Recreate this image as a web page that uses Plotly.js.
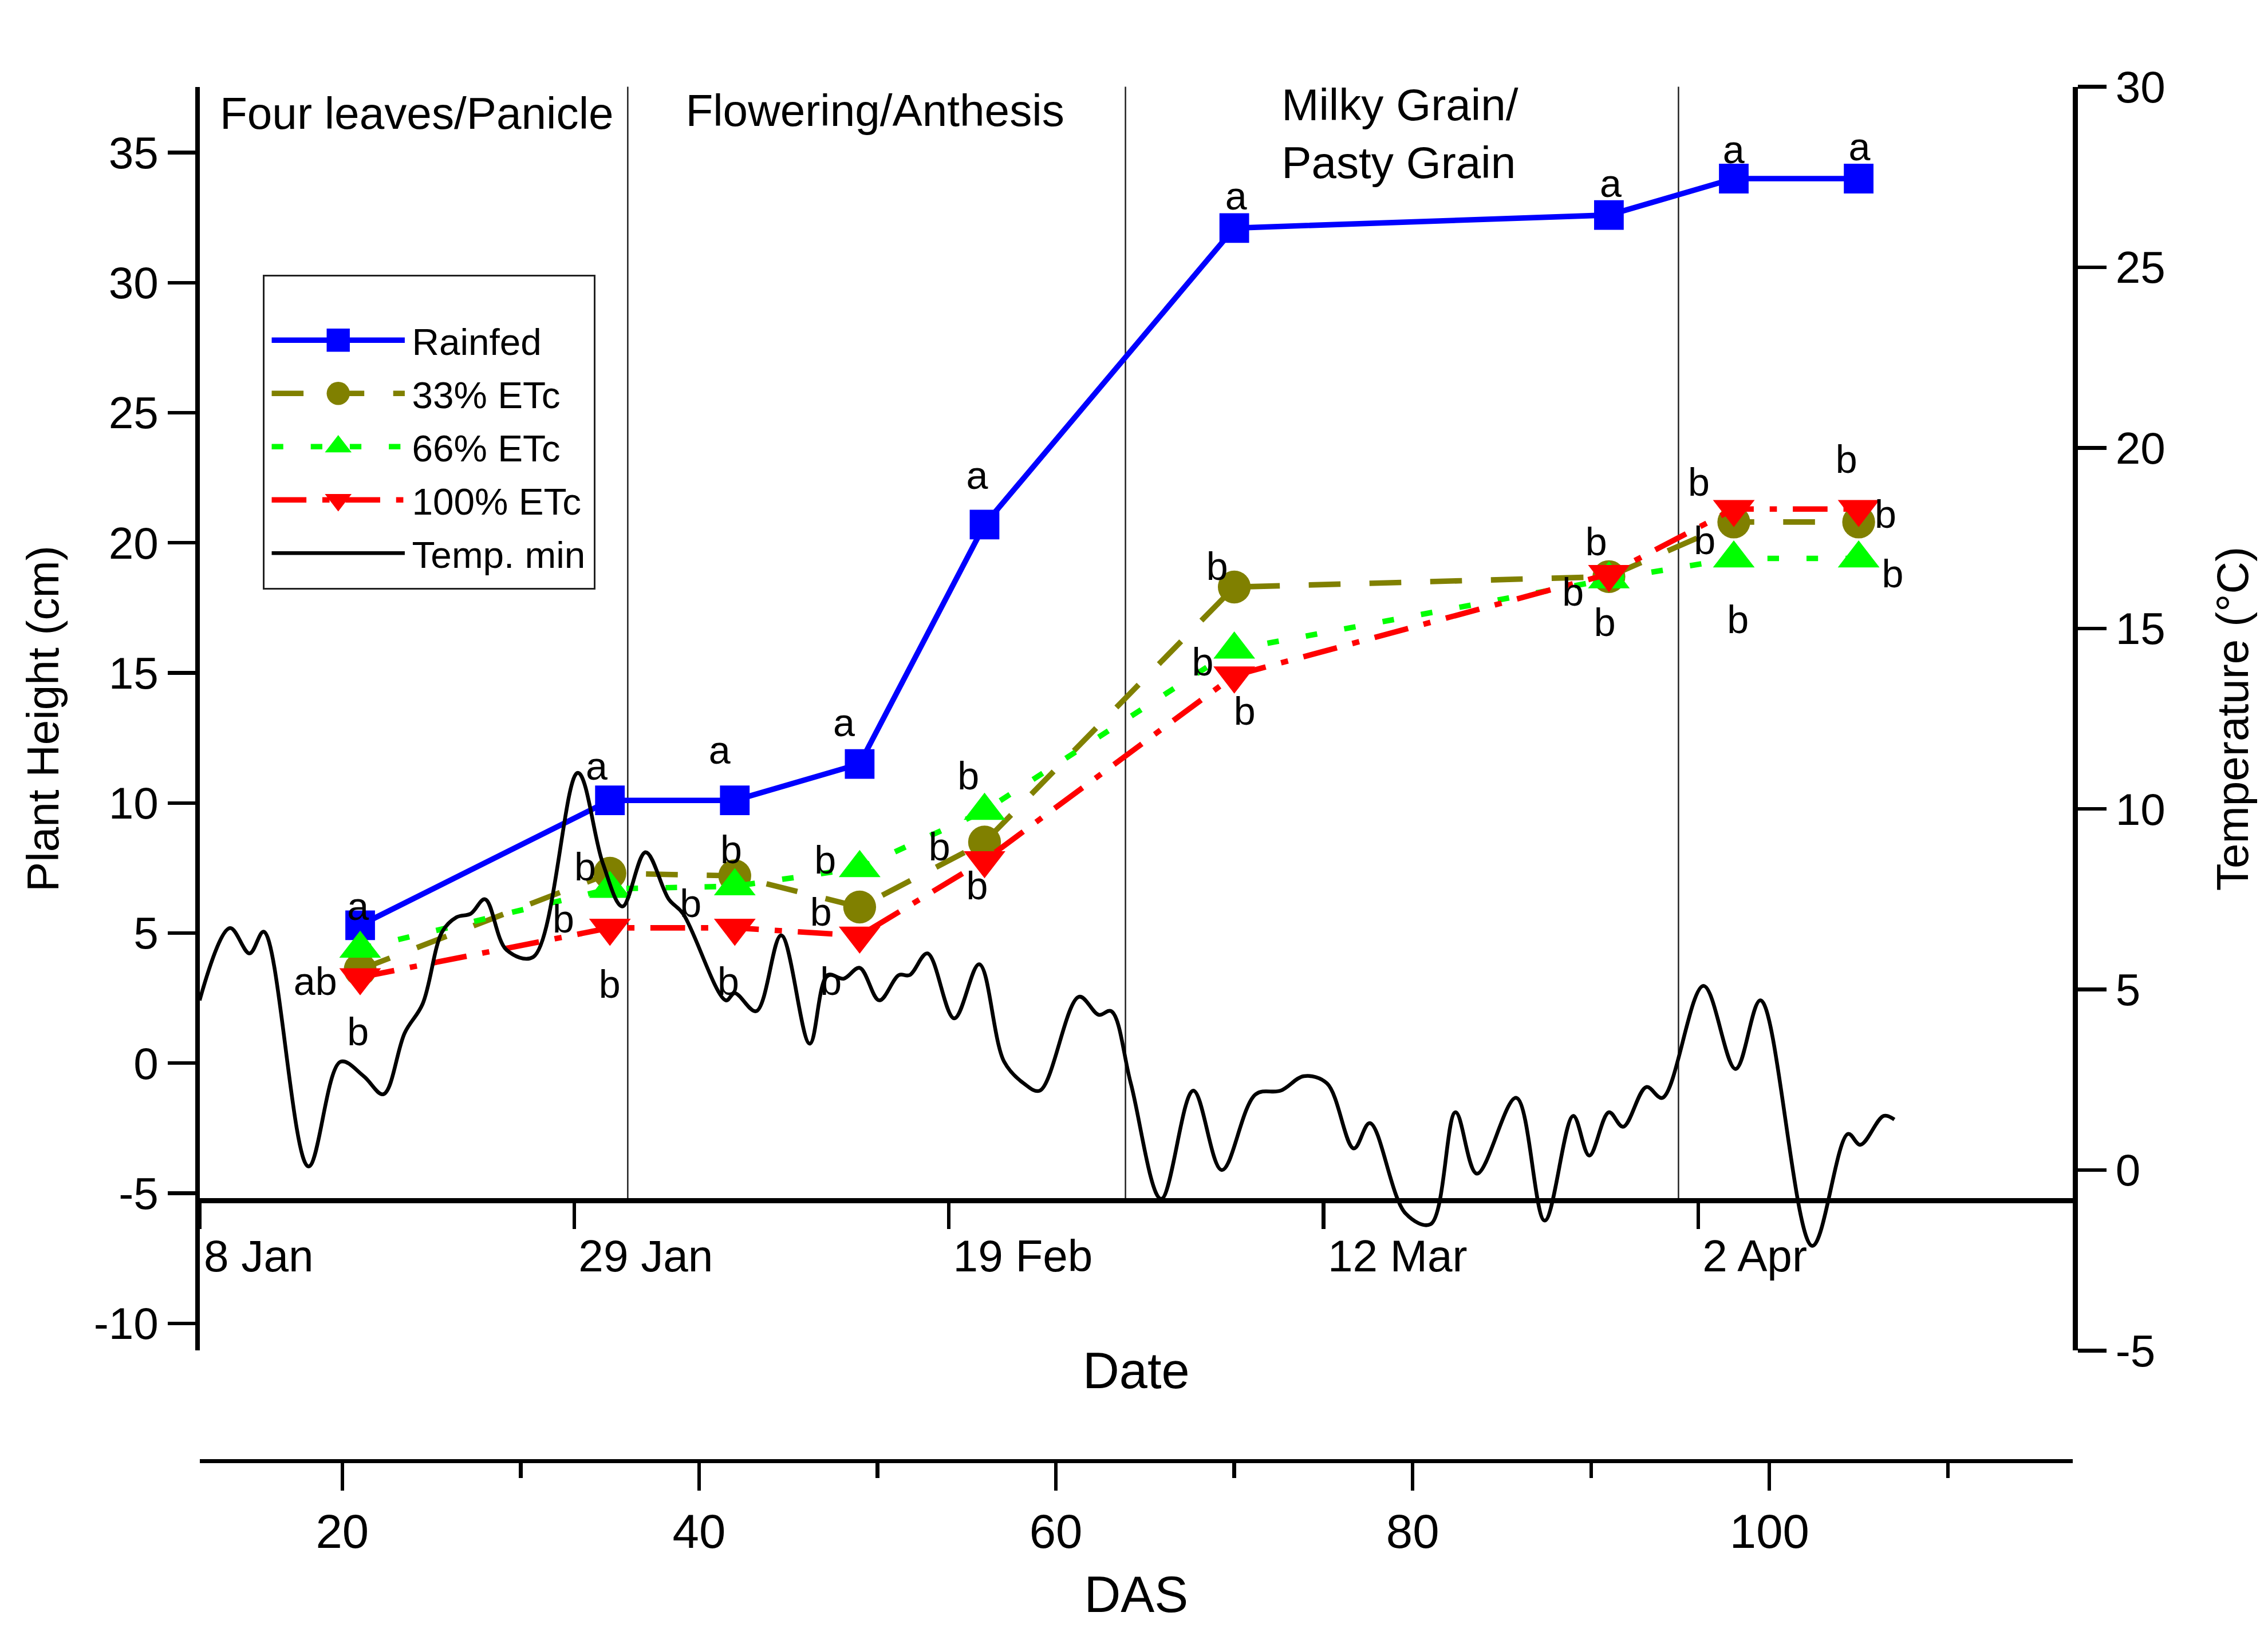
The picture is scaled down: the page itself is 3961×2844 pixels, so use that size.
<!DOCTYPE html>
<html>
<head>
<meta charset="utf-8">
<script src="https://cdn.plot.ly/plotly-3.0.1.min.js"></script>
<style>
    html, body { margin: 0; padding: 0; background: #ffffff; width: 3961px; height: 2844px; }
    #wrap { position: relative; width: 3961px; height: 2844px; overflow: hidden; }
    /* chart is laid out at 1568 x 1126 and scaled up to the 3961 x 2844 window */
    #chart { position: absolute; left: 0; top: 0; width: 1568px; height: 1126px; transform: scale(2.52615); transform-origin: 0 0; }
</style>
</head>
<body>
<div id="wrap"><div id="chart"></div></div>
<script>

// ==========================================================
// DATA
// ==========================================================

// sampling days (days after sowing)
let das = [21, 35, 42, 49, 56, 70, 91, 98, 105];

// plant height (cm)
let rainfed = [5.3, 10.1, 10.1, 11.5, 20.7, 32.1, 32.6, 34.0, 34.0];
let etc33   = [3.6, 7.3, 7.2, 6.0, 8.5, 18.3, 18.7, 20.8, 20.8];
let etc66   = [4.4, 6.7, 6.8, 7.5, 9.7, 15.9, 18.6, 19.4, 19.4];
let etc100  = [3.3, 5.2, 5.2, 4.9, 7.8, 14.9, 18.8, 21.3, 21.3];

// significance letters
let rainfedSig = ["a", "a", "a", "a", "a", "a", "a", "a", "a"];
let etc33Sig   = ["ab", "b", "b", "b", "b", "b", "b", "b", "b"];
let etc66Sig   = ["", "b", "b", "b", "b", "b", "b", "b", "b"];
let etc100Sig  = ["b", "b", "b", "b", "b", "b", "b", "b", "b"];

// daily minimum temperature (°C)
let tempDas = [
    12.0, 13.7, 14.8, 15.6, 18.1, 19.9, 21.2, 22.3, 23.5, 24.5,
    25.6, 26.4, 27.2, 28.0, 29.2, 30.7, 33.2, 34.6, 35.7, 37.0,
    38.3, 39.1, 41.5, 42.0, 43.2, 44.6, 46.2, 47.2, 48.1, 49.0,
    50.1, 51.2, 51.8, 52.8, 54.3, 55.7, 57.1, 58.2, 59.1, 61.3,
    62.4, 63.1, 64.2, 65.9, 67.7, 69.3, 71.2, 72.6, 73.9, 75.2,
    76.7, 77.6, 79.6, 81.0, 82.4, 83.6, 85.8, 87.4, 89.0, 89.9,
    91.0, 91.8, 93.1, 94.0, 96.3, 98.1, 99.5, 102.4, 104.4, 105.1,
    106.4, 107.0
];

let tempMin = [
    4.7, 6.7, 6.0, 6.6, 0.1, 3.0, 2.6, 2.1, 3.8, 4.6,
    6.6, 7.0, 7.1, 7.5, 6.1, 5.9, 11.0, 8.5, 7.3, 8.8,
    7.5, 7.1, 4.7, 4.9, 4.4, 6.5, 3.5, 5.4, 5.3, 5.6,
    4.7, 5.4, 5.4, 6.0, 4.2, 5.7, 3.0, 2.4, 2.2, 4.8,
    4.3, 4.4, 2.4, -0.8, 2.2, 0.0, 2.1, 2.2, 2.6, 2.4,
    0.6, 1.3, -1.2, -1.5, 1.6, -0.1, 2.0, -1.4, 1.5, 0.4,
    1.6, 1.2, 2.3, 2.0, 5.1, 2.8, 4.7, -2.1, 1.0, 0.7,
    1.5, 1.4
];

// axis ticks
let heightTicks  = [-10, -5, 0, 5, 10, 15, 20, 25, 30, 35];
let tempTicks    = [-5, 0, 5, 10, 15, 20, 25, 30];
let dateTickDas  = [12, 33, 54, 75, 96];
let dateTickText = ["8 Jan", "29 Jan", "19 Feb", "12 Mar", "2 Apr"];

// growth stages
let stageBounds = [36, 63.9, 94.9];
let stageNames  = ["Four leaves/Panicle", "Flowering/Anthesis", "Milky Grain/<br>Pasty Grain", "Maturity/<br>Senescence"];


// ==========================================================
// LETTER PLACEMENT (offset from each marker, days / cm)
// ==========================================================

let rainfedOff = [[-0.1, 0.7], [-0.7, 1.3], [-0.8, 1.9], [-0.8, 1.6], [-0.4, 1.9], [0.1, 1.2], [0.1, 1.2], [0, 1.1], [0.1, 1.2]];
let etc33Off   = [[-2.5, -0.5], [-1.4, 0.2], [-0.2, 1.0], [-2.2, -0.2], [-2.5, -0.2], [-1.0, 0.8], [-2.0, -0.6], [-1.6, -0.7], [1.5, 0.3]];
let etc66Off   = [[0, 0], [-2.6, -1.2], [-2.5, -0.7], [-1.9, 0.3], [-0.9, 1.3], [-1.8, -0.5], [-0.2, -1.7], [0.2, -2.4], [1.9, -0.6]];
let etc100Off  = [[-0.1, -2.1], [0, -2.2], [-0.4, -2.1], [-1.6, -1.8], [-0.4, -1.0], [0.6, -1.4], [-0.7, 1.2], [-2.0, 1.0], [-0.7, 1.9]];


let fontFamily = "Liberation Sans, Arial, sans-serif";


function sigAnnotations(values, letters, offsets) {

    return das.map(function (d, i) {

        return {
            x: d + offsets[i][0],
            y: values[i] + offsets[i][1],
            xref: "x",
            yref: "y",
            text: letters[i],
            showarrow: false,
            font: { size: 27, color: "black" }
        };

    }).filter(a => a.text);

}


// ==========================================================
// TRACES
// ==========================================================

let traces = [

    {
        x: das, y: rainfed, name: "Rainfed",
        type: "scatter", mode: "lines+markers",
        line: { color: "#0000FF", width: 3.8 },
        marker: { symbol: "square", size: 20.5, color: "#0000FF" }
    },

    {
        x: das, y: etc33, name: "33% ETc",
        type: "scatter", mode: "lines+markers",
        line: { color: "#808000", width: 3.8, dash: "22px,20px" },
        marker: { symbol: "circle", size: 22.7, color: "#808000" }
    },

    {
        x: das, y: etc66, name: "66% ETc",
        type: "scatter", mode: "lines+markers",
        line: { color: "#00FF00", width: 3.8, dash: "8px,19px" },
        marker: { symbol: "triangle-up", size: 25, color: "#00FF00" }
    },

    {
        x: das, y: etc100, name: "100% ETc",
        type: "scatter", mode: "lines+markers",
        line: { color: "#FF0000", width: 3.8, dash: "24px,11px,5px,11px" },
        marker: { symbol: "triangle-down", size: 25, color: "#FF0000" }
    },

    {
        x: tempDas, y: tempMin, name: "Temp. min",
        xaxis: "x2", yaxis: "y2",
        type: "scatter", mode: "lines",
        line: { color: "black", width: 2.6, shape: "spline", smoothing: 1 }
    }

];


// ==========================================================
// LAYOUT
// ==========================================================

let stageShapes = stageBounds.map(function (b) {

    return {
        type: "line", xref: "x", yref: "paper",
        x0: b, x1: b, y0: 0.1898, y1: 1,
        line: { color: "#222222", width: 1 },
        layer: "below"
    };

});


let stageLabels = [
    { x: 24.2, y: 36.5, text: stageNames[0], xanchor: "center" },
    { x: 49.9, y: 36.6, text: stageNames[1], xanchor: "center" },
    { x: 72.5, y: 35.7, text: stageNames[2], xanchor: "left" },
    { x: 98.2, y: 38.4, text: stageNames[3], xanchor: "left" }
].map(function (s) {

    return {
        x: s.x, y: s.y, xref: "x", yref: "y",
        text: s.text, xanchor: s.xanchor, yanchor: "middle", align: "left",
        showarrow: false,
        font: { size: 31, color: "black" }
    };

});


let annotations = stageLabels
    .concat(sigAnnotations(rainfed, rainfedSig, rainfedOff))
    .concat(sigAnnotations(etc33, etc33Sig, etc33Off))
    .concat(sigAnnotations(etc66, etc66Sig, etc66Off))
    .concat(sigAnnotations(etc100, etc100Sig, etc100Off));


let axisCommon = {
    showline: true, linecolor: "black",
    ticks: "outside", tickcolor: "black", tickwidth: 2.5,
    showgrid: false, zeroline: false,
    automargin: false
};


let layout = {

    width: 1568,
    height: 1126,
    margin: { l: 138, r: 135, t: 60, b: 116, pad: 0 },
    paper_bgcolor: "white",
    plot_bgcolor: "white",
    font: { family: fontFamily, color: "black", size: 31 },

    showlegend: true,
    legend: {
        x: 0.0337, y: 0.8633, xanchor: "left", yanchor: "top",
        bgcolor: "white", bordercolor: "#222222", borderwidth: 1.2,
        font: { size: 26 },
        itemwidth: 92,
        tracegroupgap: 0,
        title: { text: "\u00a0", font: { size: 16 } }
    },

    xaxis: Object.assign({}, axisCommon, {
        range: [12, 117], domain: [0, 1],
        anchor: "free", position: 0,
        linewidth: 3,
        tick0: 0, dtick: 20, ticklen: 19,
        minor: { dtick: 10, ticks: "outside", ticklen: 10, tickwidth: 2.5, tickcolor: "black", showgrid: false },
        tickfont: { size: 33 },
        title: { text: "DAS", font: { size: 35 }, standoff: 13 }
    }),

    xaxis2: Object.assign({}, axisCommon, {
        range: [12, 117],
        overlaying: "x", anchor: "free", position: 0.1898,
        linewidth: 3.4,
        tickmode: "array", tickvals: dateTickDas, ticktext: dateTickText,
        ticklen: 18,
        ticklabelposition: "outside right",
        ticklabelstandoff: 10,
        tickfont: { size: 31 },
        title: { text: "Date", font: { size: 35 }, standoff: 50 }
    }),

    yaxis: Object.assign({}, axisCommon, {
        domain: [0.08, 1], range: [-11.05, 37.53], anchor: "x",
        linewidth: 3.2,
        tickmode: "array", tickvals: heightTicks, ticktext: heightTicks.map(String),
        ticklen: 19,
        tickfont: { size: 31 },
        title: { text: "Plant Height (cm)", font: { size: 31 }, standoff: 15 }
    }),

    yaxis2: Object.assign({}, axisCommon, {
        range: [-5, 30], overlaying: "y", side: "right", anchor: "x",
        linewidth: 3.4,
        tickmode: "array", tickvals: tempTicks, ticktext: tempTicks.map(String),
        ticklen: 20,
        tickfont: { size: 31 },
        title: { text: "Temperature (°C)", font: { size: 31 }, standoff: 37 }
    }),

    shapes: stageShapes,
    annotations: annotations

};


Plotly.newPlot("chart", traces, layout, { displayModeBar: false, staticPlot: true });

</script>
</body>
</html>
